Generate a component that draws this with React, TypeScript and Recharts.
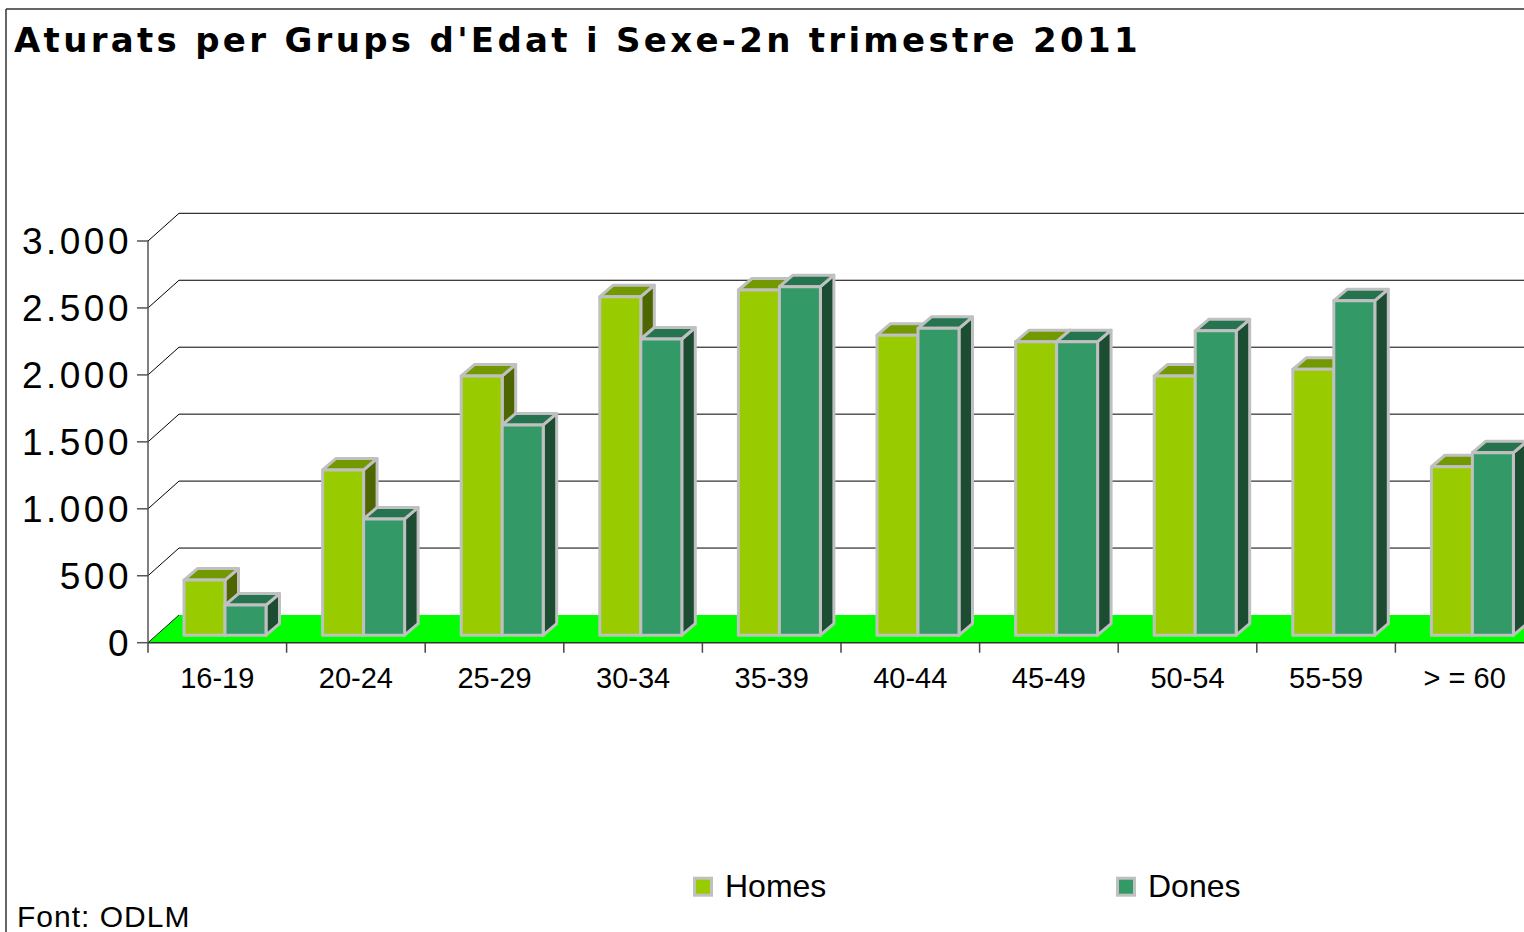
import React from 'react';
import { BarChart, Bar, XAxis, YAxis, CartesianGrid, Legend } from 'recharts';

const categories = ['16-19', '20-24', '25-29', '30-34', '35-39', '40-44', '45-49', '50-54', '55-59', '> = 60'];
const homes = [412, 1234, 1936, 2528, 2578, 2241, 2192, 1936, 1986, 1258];
const dones = [225, 868, 1570, 2212, 2603, 2292, 2192, 2273, 2498, 1363];
const yTicks = [0, 500, 1000, 1500, 2000, 2500, 3000];
const seriesNames = ['Homes', 'Dones'];
const title = "Aturats per Grups d'Edat i Sexe-2n trimestre 2011";
const source = 'Font: ODLM';

const data = categories.map((c, i) => ({ cat: c, homes: homes[i], dones: dones[i] }));

const FONT = "'Liberation Sans', Arial, Helvetica, sans-serif";
const TITLE_FONT = "'DejaVu Sans', Verdana, sans-serif";
const WALL_DX = 31;
const WALL_DY = -27.7;
const BAR_FX = 8;
const BAR_FY = -7.5;
const BAR_DX = 13.5;
const BAR_DY = -11.5;

const fmt = (v: number) => String(v).replace(/\B(?=(\d{3})+(?!\d))/g, '.');

function Floor({ x1, x2, yb }: { x1: number; x2: number; yb: number }) {
  const ext = 300;
  return (
    <g>
      <polygon
        points={`${x1},${yb} ${x1 + WALL_DX},${yb + WALL_DY} ${x2 + WALL_DX + ext},${yb + WALL_DY} ${x2 + ext},${yb}`}
        fill="#00FF00"
        stroke="none"
      />
      <line x1={x1} y1={yb} x2={x1 + WALL_DX} y2={yb + WALL_DY} stroke="#222" strokeWidth={1} />
    </g>
  );
}

function GridLine(props: any) {
  const { x1, y1, x2, y, height, index } = props;
  const bottom = typeof y === 'number' && typeof height === 'number' ? y + height : null;
  const isBottom = bottom !== null ? Math.abs(y1 - bottom) < 0.5 : false;
  if (isBottom) {
    return <Floor x1={x1} x2={x2} yb={y1} />;
  }
  return (
    <g>
      {index === 0 && bottom !== null ? <Floor x1={x1} x2={x2} yb={bottom} /> : null}
      <line x1={x1} y1={y1} x2={x1 + WALL_DX} y2={y1 + WALL_DY} stroke="#000" strokeWidth={1} />
      <line x1={x1 + WALL_DX} y1={y1 + WALL_DY} x2={x2 + WALL_DX + 300} y2={y1 + WALL_DY} stroke="#000" strokeWidth={1} />
    </g>
  );
}

function Bar3D(props: any) {
  const { x, y, width, height, fill, topColor, sideColor } = props;
  if (height == null || width == null) return null;
  const X = x + BAR_FX;
  const Y = y + BAR_FY;
  const w = width;
  const h = height;
  return (
    <g stroke="#C0C0C0" strokeWidth={3} strokeLinejoin="round">
      <polygon
        points={`${X + w},${Y} ${X + w + BAR_DX},${Y + BAR_DY} ${X + w + BAR_DX},${Y + h + BAR_DY} ${X + w},${Y + h}`}
        fill={sideColor}
      />
      <polygon
        points={`${X},${Y} ${X + BAR_DX},${Y + BAR_DY} ${X + w + BAR_DX},${Y + BAR_DY} ${X + w},${Y}`}
        fill={topColor}
      />
      <rect x={X} y={Y} width={w} height={h} fill={fill} />
    </g>
  );
}

function XTick(props: any) {
  const { x, y, payload } = props;
  const half = payload && typeof payload.offset === 'number' && payload.offset > 0 ? payload.offset : 69.3;
  const left = x - half;
  const isLast = payload && payload.index === categories.length - 1;
  return (
    <g>
      <line x1={left} y1={y} x2={left} y2={y + 10} stroke="#444" strokeWidth={1.5} />
      {isLast ? <line x1={x + half} y1={y} x2={x + half} y2={y + 10} stroke="#444" strokeWidth={1.5} /> : null}
      <text x={x} y={y + 45.5} textAnchor="middle" fontSize={29} fontFamily={FONT} fill="#000">
        {payload.value}
      </text>
    </g>
  );
}

function LegendContent(props: any) {
  const payload = [...(props.payload || [])].sort(
    (a: any, b: any) => seriesNames.indexOf(a.value) - seriesNames.indexOf(b.value)
  );
  const xs = [693, 1116];
  return (
    <svg width={1524} height={60} style={{ display: 'block' }}>
      {payload.map((e: any, i: number) => (
        <g key={e.value}>
          <rect x={xs[i] + 1.5} y={28.2} width={17} height={17} fill={e.color} stroke="#C0C0C0" strokeWidth={3} />
          <text x={xs[i] + 32} y={46.7} fontSize={32} fontFamily={FONT} fill="#000">
            {e.value}
          </text>
        </g>
      ))}
    </svg>
  );
}

export default function App() {
  return (
    <div
      style={{
        position: 'absolute',
        left: 0,
        top: 0,
        width: 1524,
        height: 932,
        overflow: 'hidden',
        background: '#fff',
      }}
    >
      <BarChart
        width={1600}
        height={932}
        data={data}
        margin={{ top: 241, right: 66, left: 0, bottom: 229.3 }}
        barSize={41}
        barGap={0}
      >
        <CartesianGrid vertical={false} horizontal={(p: any) => <GridLine {...p} />} />
        <XAxis
          dataKey="cat"
          height={60}
          tickSize={0}
          tickMargin={0}
          interval={0}
          tickLine={false}
          axisLine={{ stroke: '#333', strokeWidth: 1.5 }}
          tick={(p: any) => <XTick {...p} />}
        />
        <YAxis
          type="number"
          domain={[0, 3000]}
          ticks={yTicks}
          interval={0}
          tickFormatter={fmt}
          width={148}
          tickSize={11}
          tickMargin={5}
          axisLine={{ stroke: '#555', strokeWidth: 1.5 }}
          tickLine={{ stroke: '#555', strokeWidth: 1.5 }}
          tick={{ fontSize: 37, fill: '#000', fontFamily: FONT, letterSpacing: 3.5 }}
        />
        <Legend
          layout="horizontal"
          verticalAlign="middle"
          align="center"
          itemSorter={null as any}
          wrapperStyle={{ top: 850, left: 0, width: 1524, height: 60 }}
          content={(p: any) => <LegendContent {...p} />}
        />
        <Bar
          dataKey="homes"
          name={seriesNames[0]}
          fill="#99CC00"
          isAnimationActive={false}
          shape={(p: any) => <Bar3D {...p} topColor="#739900" sideColor="#4D6600" />}
        />
        <Bar
          dataKey="dones"
          name={seriesNames[1]}
          fill="#339966"
          isAnimationActive={false}
          shape={(p: any) => <Bar3D {...p} topColor="#267350" sideColor="#1C4D33" />}
        />
      </BarChart>
      <svg
        width={1524}
        height={932}
        style={{ position: 'absolute', left: 0, top: 0, pointerEvents: 'none' }}
      >
        <line x1={6} y1={9} x2={1524} y2={9} stroke="#333" strokeWidth={1.5} />
        <line x1={6} y1={9} x2={6} y2={932} stroke="#333" strokeWidth={1.5} />
        <text x={14} y={51.7} fontSize={34} fontWeight="bold" fontFamily={TITLE_FONT} letterSpacing={3.3} fill="#000">
          {title}
        </text>
        <text x={17} y={927} fontSize={30} fontFamily={FONT} letterSpacing={1} fill="#000">
          {source}
        </text>
      </svg>
    </div>
  );
}
